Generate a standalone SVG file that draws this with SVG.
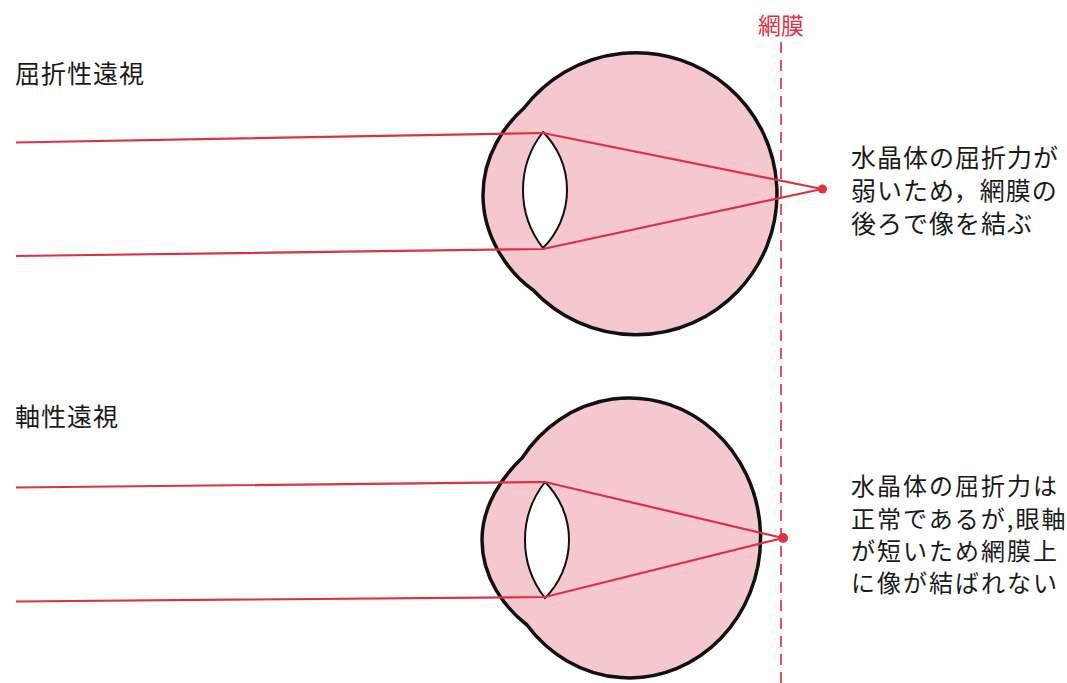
<svg xmlns="http://www.w3.org/2000/svg" width="1067" height="683" viewBox="0 0 1067 683">
  <defs>
    <style>
      .globe { fill: #f5c7cf; stroke: #111; stroke-width: 3.5; stroke-linejoin: round; }
      .lens { fill: #fff; stroke: #111; stroke-width: 2; }
      .ray { fill: none; stroke: #e0303f; stroke-width: 2.2; stroke-linejoin: round; }
      .focus { fill: #e2323f; }
      .retina { stroke: #e0404e; stroke-width: 1.8; stroke-dasharray: 11 7; fill: none; }
      .title { font-family: "Noto Sans CJK JP", "Noto Sans CJK SC", sans-serif; font-size: 25px; letter-spacing: 1px; fill: #1a1a1a; }
      .note { font-family: "Noto Sans CJK JP", "Noto Sans CJK SC", sans-serif; font-size: 25px; letter-spacing: 1px; fill: #1a1a1a; }
      .note-tight { font-family: "Noto Sans CJK JP", "Noto Sans CJK SC", sans-serif; font-size: 24px; letter-spacing: 2px; fill: #1a1a1a; }
      .red { font-family: "Noto Sans CJK JP", "Noto Sans CJK SC", sans-serif; font-size: 23px; fill: #e0303f; }
    </style>
  </defs>

  <rect width="1067" height="683" fill="#fff"/>

  <!-- retina reference line -->
  <g id="retina-line">
    <line class="retina" x1="781" y1="42" x2="781" y2="683"/>
    <text class="red" x="781" y="34" text-anchor="middle">網膜</text>
  </g>

  <!-- refractive hyperopia: cornea bulge then globe -->
  <g id="eye-refractive">
    <path class="globe" d="M524 108 C505 125 483 155 483 195 C483 237 508 272 533 290 A141 141 0 1 0 524 108 Z"/>
    <path class="lens" d="M543 132 A82 82 0 0 1 543 248 A94 94 0 0 1 543 132 Z"/>
  </g>
  <text id="label-refractive" class="title" x="15" y="83">屈折性遠視</text>
  <g id="note-refractive" class="note">
    <text x="851" y="167">水晶体の屈折力が</text>
    <text x="851" y="200">弱いため，網膜の</text>
    <text x="851" y="233">後ろで像を結ぶ</text>
  </g>

  <!-- axial hyperopia -->
  <g id="eye-axial">
    <path class="globe" d="M522 458 C503 476 482 505 482 540 C482 578 505 608 527 625 A131 140 0 1 0 522 458 Z"/>
    <path class="lens" d="M545 482 A82 82 0 0 1 545 598 A94 94 0 0 1 545 482 Z"/>
  </g>
  <text id="label-axial" class="title" x="15" y="426">軸性遠視</text>
  <g id="note-axial" class="note-tight">
    <text x="851" y="495">水晶体の屈折力は</text>
    <text x="851" y="528">正常であるが,眼軸</text>
    <text x="851" y="560">が短いため網膜上</text>
    <text x="851" y="592">に像が結ばれない</text>
  </g>

  <!-- light paths -->
  <g id="rays">
    <polyline class="ray" points="16,142.5 543,133 822,189"/>
    <polyline class="ray" points="16,256 543,249 822,189"/>
    <circle class="focus" cx="822.5" cy="189" r="4.5"/>
    <polyline class="ray" points="16,487.5 545,482 783,538"/>
    <polyline class="ray" points="16,601.5 545,597 783,538"/>
    <circle class="focus" cx="783" cy="538" r="5"/>
  </g>
</svg>
